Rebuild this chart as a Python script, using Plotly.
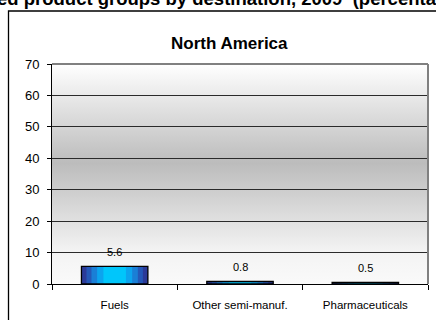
import base64
import plotly.graph_objects as go

# data
products = ["Fuels", "Other semi-manuf.", "Pharmaceuticals"]
shares = [5.6, 0.8, 0.5]
y_ticks = [0, 10, 20, 30, 40, 50, 60, 70]

W, H = 436, 320
FONT = "Liberation Sans, Arial, sans-serif"

# vertical grey gradient for the plot area
grad_svg = (
    '<svg xmlns="http://www.w3.org/2000/svg" width="10" height="100" '
    'viewBox="0 0 10 100" preserveAspectRatio="none">'
    '<defs><linearGradient id="g" x1="0" y1="0" x2="0" y2="1">'
    '<stop offset="0" stop-color="#ffffff"/>'
    '<stop offset="0.45" stop-color="#bcbcbc"/>'
    '<stop offset="0.85" stop-color="#f3f3f3"/>'
    '<stop offset="1" stop-color="#fafafa"/>'
    '</linearGradient></defs>'
    '<rect width="10" height="100" fill="url(#g)"/></svg>'
)
grad_src = "data:image/svg+xml;base64," + base64.b64encode(grad_svg.encode()).decode()

x0, x1 = 52 / W, 428 / W
y0, y1 = 1 - 284 / H, 1 - 64 / H

fig = go.Figure()
# horizontal blue->cyan->blue gradient imitated by overlaid bars of decreasing width
bar_steps = [(0.53, "#2b3a98"), (0.45, "#2458b8"), (0.37, "#1a7fd6"),
             (0.28, "#0ca4ee"), (0.18, "#00c6fb")]
for wdt, col in bar_steps:
    fig.add_trace(go.Bar(x=products, y=shares, width=wdt,
                         marker=dict(color=col, line=dict(width=0)),
                         hoverinfo="skip"))
fig.add_trace(go.Bar(x=products, y=shares, width=0.53,
                     marker=dict(color="rgba(0,0,0,0)",
                                 line=dict(color="black", width=1.3)),
                     hoverinfo="skip"))

for p, v in zip(products, shares):
    fig.add_annotation(x=p, y=v, text=f"{v:.1f}", showarrow=False,
                       yanchor="bottom", yshift=6,
                       font=dict(family=FONT, size=11, color="black"))

fig.update_layout(
    width=W, height=H,
    margin=dict(l=0, r=0, t=0, b=0, pad=0, autoexpand=False),
    paper_bgcolor="white",
    plot_bgcolor="rgba(0,0,0,0)",
    showlegend=False,
    barmode="overlay",
    font=dict(family=FONT, color="black"),
    xaxis=dict(
        domain=[x0, x1], type="category", automargin=False,
        showline=True, linecolor="black", linewidth=1,
        ticks="outside", tickson="boundaries", ticklen=5, tickcolor="black",
        tickfont=dict(size=11.5), ticklabelstandoff=10,
        showgrid=False,
    ),
    yaxis=dict(
        domain=[y0, y1], range=[0, 70], tickvals=y_ticks, automargin=False,
        showline=True, linecolor="black", linewidth=1,
        ticks="outside", ticklen=4, tickcolor="black",
        tickfont=dict(size=13), ticklabelstandoff=5,
        showgrid=True, gridcolor="#2a2a2a", gridwidth=1,
        zeroline=False,
    ),
    images=[dict(source=grad_src, xref="paper", yref="paper",
                 x=x0, y=y1, sizex=x1 - x0, sizey=y1 - y0,
                 xanchor="left", yanchor="top", sizing="stretch",
                 layer="below")],
    shapes=[
        # outer chart box
        dict(type="rect", xref="paper", yref="paper",
             x0=8.5 / W, x1=1.02, y0=-0.05, y1=1 - 11 / H,
             line=dict(color="black", width=1.3), layer="below"),
        # grey top and right frame of plot area
        dict(type="line", xref="x domain", yref="y domain",
             x0=0, x1=1, y0=1, y1=1, line=dict(color="#808080", width=2)),
        dict(type="line", xref="x domain", yref="y domain",
             x0=1, x1=1, y0=0, y1=1, line=dict(color="#808080", width=2)),
    ],
)

fig.add_annotation(text="<b>North America</b>", xref="paper", yref="paper",
                   x=229 / W, y=1 - 43 / H, xanchor="center", yanchor="middle",
                   showarrow=False, font=dict(family=FONT, size=17))
fig.add_annotation(text="<b>ed product groups by destination, 2009  (percentage)</b>",
                   xref="paper", yref="paper", x=-5 / W, y=1 + 1.5 / H,
                   xanchor="left", yanchor="middle", showarrow=False,
                   font=dict(family=FONT, size=18.5))

fig.write_html("out.html", config={"displayModeBar": False},
               post_script="document.body.style.margin='0';document.body.style.overflow='hidden';")
